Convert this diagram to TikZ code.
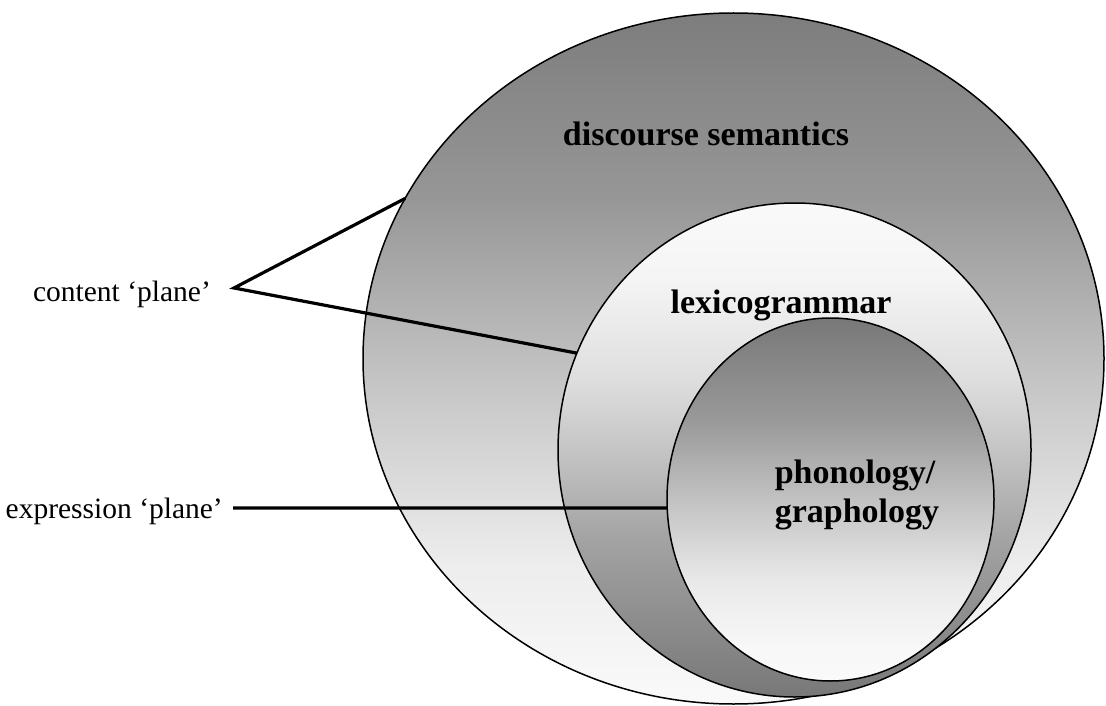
\documentclass[tikz,border=0pt]{standalone}
\usepackage{fontspec}
\setmainfont{Liberation Serif}
\usetikzlibrary{shapes.geometric}

% grey levels of the three strata
\definecolor{oA}{gray}{0.49}
\definecolor{oB}{gray}{0.59}
\definecolor{oC}{gray}{0.79}
\definecolor{oD}{gray}{0.93}
\definecolor{oE}{gray}{0.98}

\definecolor{mA}{gray}{0.98}
\definecolor{mB}{gray}{0.96}
\definecolor{mC}{gray}{0.87}
\definecolor{mD}{gray}{0.64}
\definecolor{mE}{gray}{0.47}

\definecolor{iA}{gray}{0.47}
\definecolor{iB}{gray}{0.60}
\definecolor{iC}{gray}{0.76}
\definecolor{iD}{gray}{0.91}
\definecolor{iE}{gray}{0.97}
\definecolor{iF}{gray}{0.98}

% vertical shadings: 25bp = bottom of the shape, 75bp = top
\pgfdeclareverticalshading{outershade}{100bp}{color(0bp)=(oE); color(25bp)=(oE); color(35bp)=(oD); color(47bp)=(oC); color(61.5bp)=(oB); color(75bp)=(oA); color(100bp)=(oA)}
\pgfdeclareverticalshading{middleshade}{100bp}{color(0bp)=(mE); color(25bp)=(mE); color(41bp)=(mD); color(57bp)=(mC); color(67.5bp)=(mB); color(75bp)=(mA); color(100bp)=(mA)}
\pgfdeclareverticalshading{innershade}{100bp}{color(0bp)=(iF); color(25bp)=(iF); color(30bp)=(iE); color(39bp)=(iD); color(50bp)=(iC); color(61bp)=(iB); color(75bp)=(iA); color(100bp)=(iA)}

\tikzset{
  ring/.style={ellipse, draw=black, line width=1.5pt, inner sep=0pt, outer sep=0pt},
  leader/.style={draw=black, line width=3.2pt, line join=miter},
  planelabel/.style={font=\fontsize{29.5}{35}\selectfont, inner sep=0pt},
  stratum/.style={font=\bfseries\fontsize{34}{39}\selectfont, inner sep=0pt},
}

\begin{document}
\begin{tikzpicture}[x=1pt, y=-1pt]
  \fill[white] (0,0) rectangle (1106,706);
  \useasboundingbox (0,0) rectangle (1106,706);

  % the three nested strata
  \node[ring, shading=outershade, minimum width=741pt, minimum height=691pt] (outer) at (733.5,358.5) {};
  \node[ring, shading=middleshade, minimum width=473pt, minimum height=494pt] (middle) at (794.5,450) {};
  \node[ring, shading=innershade, minimum width=327pt, minimum height=363pt] (inner) at (830.5,499.5) {};

  % stratum names
  \node[stratum, anchor=base] (disc) at (706,146) {discourse semantics};
  \node[stratum, anchor=base] (lexi) at (781,313) {lexicogrammar};
  \node[stratum, align=left] (phon) at (857,495) {phonology/\\graphology};

  % plane labels and their leaders
  \node[planelabel, anchor=base east] (content) at (211,301) {content ‘plane’};
  \node[planelabel, anchor=base east] (expression) at (223,518) {expression ‘plane’};
  \coordinate (apex) at (234,288);
  \coordinate (exprfoot) at (233,508);

  \draw[leader] (outer.154.8) -- (apex) -- (middle.156.1);
  \draw[leader] (exprfoot) -- (inner.183);
\end{tikzpicture}
\end{document}
